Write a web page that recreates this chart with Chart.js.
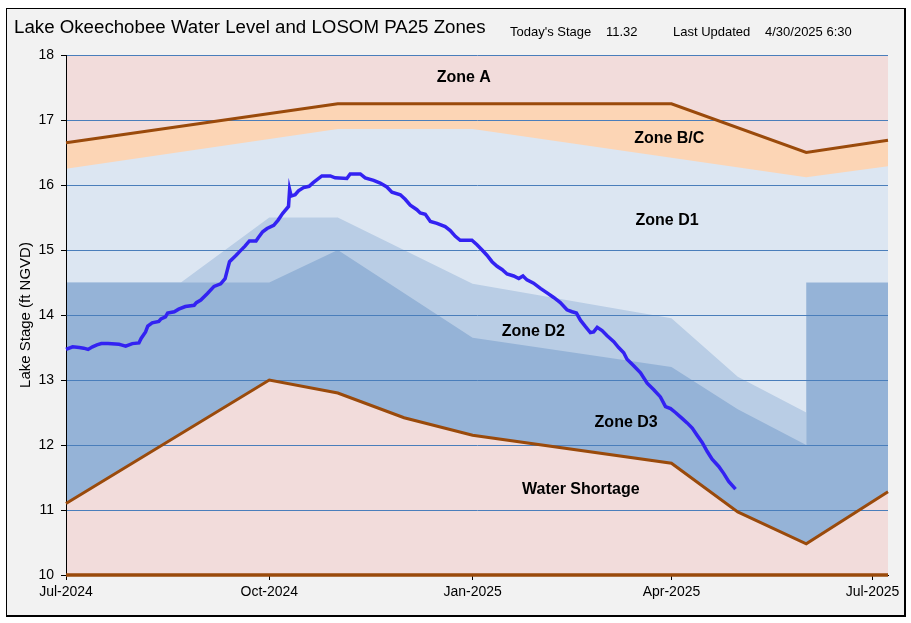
<!DOCTYPE html>
<html>
<head>
<meta charset="utf-8">
<script src="https://cdn.jsdelivr.net/npm/chart.js@4.4.1/dist/chart.umd.min.js"></script>
<style>
  body { margin: 0; background: #fff; }
  .frame {
    position: absolute; left: 6px; top: 8px; width: 897px; height: 606px;
    border: 1px solid #000; border-right-width: 2px; border-bottom-width: 2px;
    background: #f2f2f2;
  }
  #c { position: absolute; left: 0; top: 0; }
</style>
</head>
<body>
<div class="frame"></div>
<canvas id="c" width="911" height="623"></canvas>
<script>
  // x values are days counted from 1 Jul 2024
  var tickDays = [0, 92, 184, 274, 365];
  var tickLabels = ['Jul-2024', 'Oct-2024', 'Jan-2025', 'Apr-2025', 'Jul-2025'];

  var todayStage = '11.32';
  var lastUpdated = '4/30/2025 6:30';

  // zone boundaries
  var upperDay = [0, 123, 274, 335, 372];
  var upperFt = [16.65, 17.25, 17.25, 16.5, 16.69];
  var bcLowDay = [0, 123, 184, 335, 372];
  var bcLowFt = [16.25, 16.86, 16.86, 16.12, 16.29];
  var d2Day = [0, 52, 92, 123, 184, 274, 304, 335];
  var d2Ft = [14.5, 14.5, 15.5, 15.5, 14.48, 13.95, 13.05, 12.5];
  var d3Day = [0, 92, 123, 184, 274, 304, 335, 335, 372];
  var d3Ft = [14.5, 14.5, 15.0, 13.65, 13.2, 12.55, 12.0, 14.5, 14.5];
  var lowerDay = [0, 92, 123, 153, 184, 274, 304, 335, 372];
  var lowerFt = [11.1, 13.0, 12.8, 12.42, 12.15, 11.72, 10.97, 10.48, 11.28];
  var baseDay = [0, 372];
  var baseFt = [10, 10];

  // lake stage
  var stageDay = [0,3,6,8,10,12,14,16,19,24,25,27,30,33,34,36,37,39,42,43,
    45,46,49,51,54,58,59,61,64,67,70,72,73,74,77,79,81,83,86,87,
    89,91,94,96,98,100.7,101.2,101.9,103.7,105.2,107.5,110,112,115.8,119.6,121.8,127.1,128.6,133.2,135.4,
    139.2,142.2,145.2,147.5,151.3,153.5,155.8,158.8,160.3,162.6,164.9,167.9,171.6,173.9,176.2,178.4,183.7,186,188.3,190.5,
    192.8,195.1,197.3,199.6,202.6,204.9,206.8,208.6,211.6,214.7,217.7,220.7,223.7,226.7,229,231,232.8,235.1,237.3,238.8,
    240.4,242.6,244.9,247.9,250.1,252.4,253.9,256.9,260,263,266,269,271.3,273.6,275.8,278.8,281.1,283.4,285.6,287.9,
    290.2,292.4,295.4,297.7,299.9,303];
  var stageFt = [13.47,13.51,13.50,13.49,13.47,13.51,13.54,13.56,13.56,13.55,13.54,13.52,13.56,13.57,13.64,13.74,13.83,13.88,13.90,13.94,
    13.97,14.03,14.05,14.09,14.13,14.15,14.19,14.23,14.33,14.44,14.48,14.56,14.69,14.82,14.92,14.99,15.06,15.14,15.14,15.19,
    15.28,15.33,15.38,15.46,15.56,15.67,15.93,15.83,15.85,15.91,15.96,15.98,16.04,16.14,16.14,16.11,16.10,16.17,16.17,16.11,
    16.07,16.03,15.97,15.89,15.85,15.78,15.69,15.62,15.57,15.55,15.44,15.41,15.36,15.30,15.21,15.15,15.15,15.08,15.00,14.92,
    14.82,14.75,14.70,14.63,14.60,14.56,14.60,14.54,14.49,14.41,14.34,14.27,14.19,14.08,14.05,14.03,13.92,13.82,13.73,13.74,
    13.81,13.76,13.68,13.59,13.50,13.42,13.32,13.22,13.11,12.95,12.85,12.74,12.59,12.56,12.50,12.41,12.34,12.26,12.15,12.04,
    11.90,11.78,11.67,11.56,11.44,11.32];

  var zoneNames = ['Zone A', 'Zone B/C', 'Zone D1', 'Zone D2', 'Zone D3', 'Water Shortage'];
  var zoneLabelDay = [180, 273, 272, 211.5, 253.5, 233];
  var zoneLabelFt = [17.65, 16.71, 15.45, 13.74, 12.35, 11.32];

  function pts(xs, ys) {
    return xs.map(function (x, i) { return { x: x, y: ys[i] }; });
  }

  var brown = '#9a4a0b';

  function area(xs, ys, color, fill, order) {
    return { data: pts(xs, ys), backgroundColor: color, borderWidth: 0, pointRadius: 0, fill: fill, order: order };
  }
  function line(xs, ys, color, width, order) {
    return { data: pts(xs, ys), borderColor: color, borderWidth: width, pointRadius: 0, fill: false, order: order, clip: 3 };
  }

  var textPlugin = {
    id: 'texts',
    afterDatasetsDraw: function (chart) {
      var ctx = chart.ctx, x = chart.scales.x, y = chart.scales.y;
      ctx.save();
      ctx.fillStyle = '#000';
      ctx.textAlign = 'center';
      ctx.textBaseline = 'middle';
      ctx.font = 'bold 16px "Liberation Sans", Arial, sans-serif';
      zoneNames.forEach(function (n, i) {
        ctx.fillText(n, x.getPixelForValue(zoneLabelDay[i]), y.getPixelForValue(zoneLabelFt[i]));
      });
      ctx.restore();
    },
    afterDraw: function (chart) {
      var ctx = chart.ctx;
      ctx.save();
      ctx.fillStyle = '#000';
      ctx.textAlign = 'left';
      ctx.textBaseline = 'alphabetic';
      ctx.font = '18.7px "Liberation Sans", Arial, sans-serif';
      ctx.fillText('Lake Okeechobee Water Level and LOSOM PA25 Zones', 14, 33);
      ctx.font = '13px "Liberation Sans", Arial, sans-serif';
      ctx.fillText("Today's Stage", 510, 36);
      ctx.fillText(todayStage, 606, 36);
      ctx.fillText('Last Updated', 673, 36);
      ctx.fillText(lastUpdated, 765, 36);
      ctx.restore();
    }
  };

  Chart.defaults.font.family = '"Liberation Sans", Arial, sans-serif';
  Chart.defaults.color = '#000';

  new Chart(document.getElementById('c'), {
    type: 'line',
    data: {
      datasets: [
        line(stageDay, stageFt, '#3322f2', 3.5, 1),
        line(baseDay, baseFt, brown, 3.5, 2),
        line(lowerDay, lowerFt, brown, 3, 2),
        line(upperDay, upperFt, brown, 3, 3),
        area(lowerDay, lowerFt, '#f2dcdb', 'start', 4),
        area(d3Day, d3Ft, '#95b3d7', 'start', 5),
        area(d2Day, d2Ft, '#b9cde5', 'start', 6),
        area(bcLowDay, bcLowFt, '#dce6f2', 'start', 7),
        area(upperDay, upperFt, '#fcd5b5', 'start', 8),
        area(upperDay, upperFt, '#f2dcdb', 'end', 9)
      ]
    },
    options: {
      responsive: false,
      devicePixelRatio: 1,
      animation: false,
      layout: { padding: { left: 0, top: 55, right: 23, bottom: 0 } },
      plugins: {
        legend: { display: false },
        tooltip: { enabled: false },
        filler: { drawTime: 'beforeDraw' }
      },
      scales: {
        x: {
          type: 'linear',
          min: 0,
          max: 372,
          afterBuildTicks: function (s) { s.ticks = tickDays.map(function (v) { return { value: v }; }); },
          afterFit: function (s) { s.height = 48; },
          ticks: {
            autoSkip: false,
            maxRotation: 0,
            padding: 4,
            font: { size: 14 },
            callback: function (v, i) { return tickLabels[i]; }
          },
          grid: { drawOnChartArea: false, tickColor: '#000', tickLength: 5 },
          border: { color: '#000' }
        },
        y: {
          min: 10,
          max: 18,
          afterFit: function (s) { s.width = 66; },
          ticks: { stepSize: 1, padding: 7, font: { size: 14 } },
          grid: { color: '#4a7ebb', tickColor: '#000', tickLength: 5 },
          border: { color: '#000' },
          title: {
            display: true,
            text: 'Lake Stage (ft NGVD)',
            font: { size: 15 },
            padding: { top: 17, bottom: 0 }
          }
        }
      }
    },
    plugins: [textPlugin]
  });
</script>
</body>
</html>
